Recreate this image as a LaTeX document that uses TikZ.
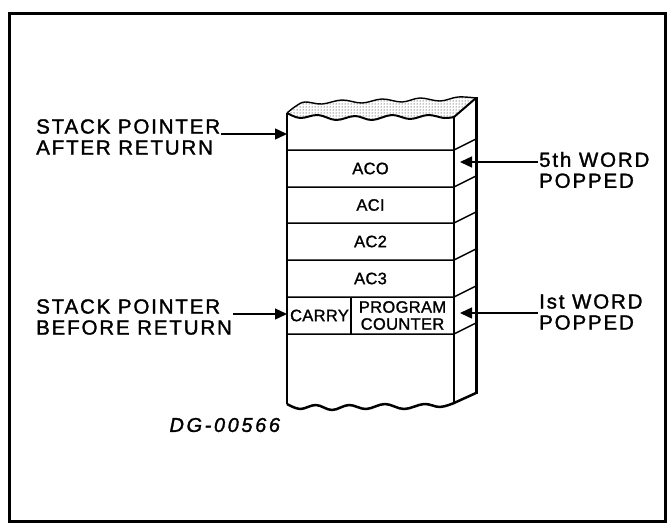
\documentclass[tikz,border=0pt]{standalone}
\usepackage{fontspec}
\setmainfont{Liberation Sans}[FakeBold=1.2]
\newfontfamily\lblfont{Liberation Sans}[LetterSpace=9, FakeBold=1.5]
\newfontfamily\cellfont{Liberation Sans}[LetterSpace=2, FakeBold=1.3]
\newfontfamily\tagfont{Liberation Sans}[LetterSpace=13, FakeBold=1.5]
\usetikzlibrary{arrows.meta, positioning, patterns}

\begin{document}
\begin{tikzpicture}[x=1pt, y=-1pt, >={Triangle[length=12pt, width=11pt]},
  lbl/.style={font=\lblfont\fontsize{20.5}{21}\selectfont, align=left, inner sep=1pt},
  cell/.style={font=\cellfont\fontsize{16.5}{17}\selectfont, inner sep=0pt, align=center},
  ptr/.style={->, line width=1.4pt}]

\useasboundingbox (0,0) rectangle (668,527);
\draw[line width=3pt] (9,14) rectangle (665,521);

% stippled top of the stack
\path[pattern=dots] (287,113) -- plot[smooth, tension=0.6] coordinates {(287,113) (300,118) (318,115) (336,120) (355,116) (372,120) (392,115) (410,119) (428,115) (444,118) (454,117)}
  -- (476,98) -- plot[smooth, tension=0.6] coordinates {(476,98) (458,97) (440,101) (420,98) (402,102) (382,99) (362,103) (342,100) (322,104) (305,102) (296,106)} -- cycle;
\draw[line width=2pt, line join=round] (287,113) -- plot[smooth, tension=0.6] coordinates {(287,113) (300,118) (318,115) (336,120) (355,116) (372,120) (392,115) (410,119) (428,115) (444,118) (454,117)} -- (476,98);
\draw[line width=1.4pt] plot[smooth, tension=0.6] coordinates {(476,98) (458,97) (440,101) (420,98) (402,102) (382,99) (362,103) (342,100) (322,104) (305,102) (296,106) (287,113)};

% faces of the stack
\draw[line width=2pt] (287,113) -- (287,404);
\draw[line width=1.5pt] (454,117) -- (454,403);
\draw[line width=3pt] (476,97) -- (476,394);
\draw[line width=2.5pt, line join=round] plot[smooth, tension=0.6] coordinates {(287,404) (300,409) (316,405) (332,410) (349,405) (366,409) (385,404) (404,409) (424,404) (440,407) (454,403)} -- (476,393);

% words
\foreach \y in {150,187,223,260,297,334} {
  \draw[line width=1.5pt] (287,\y) -- (454,\y) -- (476,\y-11);
}
\draw[line width=1.2pt] (351,297) -- (351,334);

\foreach \n/\t/\y in {acz/ACO/168.5, aci/ACI/205, act/AC2/241.5, acr/AC3/278.5} {
  \node[cell] (\n) at (370.5,\y) {\t};
}
\node[cell] (carry) at (319.5,315.5) {CARRY};
\node[cell] (pc) at (402.5,315.5) {PROGRAM\\COUNTER};

% pointers
\coordinate (spafter) at (287,134);
\coordinate (spbefore) at (287,314);
\coordinate (popfive) at (460,162);
\coordinate (popone) at (460,313);

\node[lbl, anchor=west] (after) at (35,137) {STACK POINTER\\AFTER RETURN};
\node[lbl, anchor=west] (before) at (35,317) {STACK POINTER\\BEFORE RETURN};
\node[lbl, anchor=west] (five) at (538,170) {5th WORD\\POPPED};
\node[lbl, anchor=west] (one) at (538,312) {Ist WORD\\POPPED};

\draw[ptr] (after.east |- spafter) -- (spafter);
\draw[ptr] (before.east |- spbefore) -- (spbefore);
\draw[ptr] (five.west |- popfive) -- (popfive);
\draw[ptr] (one.west |- popone) -- (popone);

\node[font=\tagfont\itshape\fontsize{20}{20}\selectfont, anchor=west] (tag) at (166,425) {DG-00566};

\end{tikzpicture}
\end{document}
